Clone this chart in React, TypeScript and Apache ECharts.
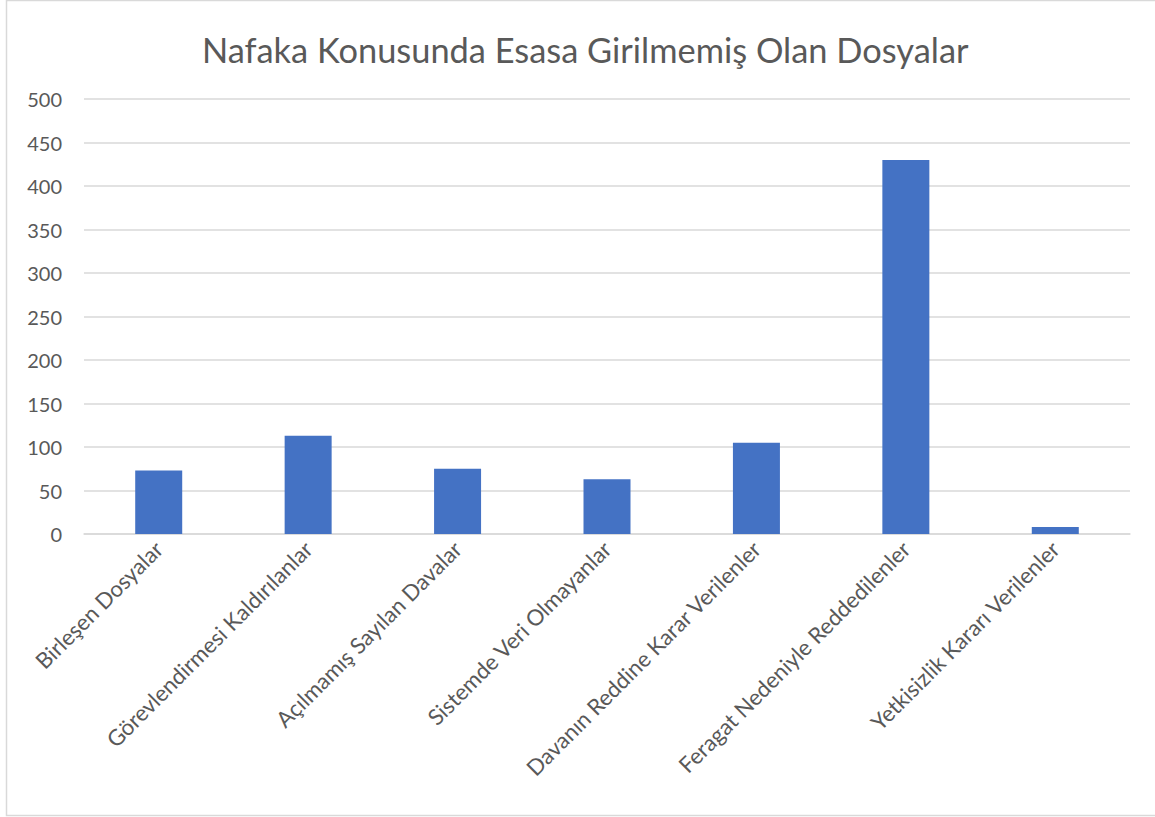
import React, { useEffect, useRef } from "react";
import * as echarts from "echarts";

const titleText = "Nafaka Konusunda Esasa Girilmemiş Olan Dosyalar";
const categories = [
  "Birleşen Dosyalar",
  "Görevlendirmesi Kaldırılanlar",
  "Açılmamış Sayılan Davalar",
  "Sistemde Veri Olmayanlar",
  "Davanın Reddine Karar Verilenler",
  "Feragat Nedeniyle Reddedilenler",
  "Yetkisizlik Kararı Verilenler",
];
const values = [73, 113, 75, 63, 105, 430, 8];

const FONT = "Lato, 'Open Sans', sans-serif";

export default function App() {
  const ref = useRef<HTMLDivElement>(null);
  useEffect(() => {
    if (!ref.current) return;
    const chart = echarts.init(ref.current, null, { renderer: "svg" });
    chart.setOption({
      animation: false,
      backgroundColor: "#ffffff",
      title: {
        text: titleText,
        left: 197,
        top: 27,
        textStyle: { fontFamily: FONT, fontSize: 34.4, fontWeight: "normal", color: "#595959" },
      },
      graphic: [
        {
          type: "rect",
          shape: { x: 6.5, y: 0.5, width: 1160, height: 815 },
          style: { fill: "none", stroke: "#d9d9d9", lineWidth: 1.5 },
          silent: true,
        },
      ],
      grid: { left: 84, right: 25, top: 99, bottom: 283, containLabel: false },
      xAxis: {
        type: "category",
        data: categories,
        axisLine: { show: true, lineStyle: { color: "#d9d9d9", width: 1.5 } },
        axisTick: { show: false },
        axisLabel: {
          rotate: 45,
          interval: 0,
          margin: 11,
          fontFamily: FONT,
          fontSize: 22.2,
          color: "#595959",
        },
      },
      yAxis: {
        type: "value",
        min: 0,
        max: 500,
        interval: 50,
        axisLine: { show: false },
        axisTick: { show: false },
        splitLine: { lineStyle: { color: "#d9d9d9", width: 1.5 } },
        axisLabel: { margin: 22, fontFamily: FONT, fontSize: 20, color: "#595959" },
      },
      series: [
        {
          type: "bar",
          data: values,
          barWidth: 47,
          itemStyle: { color: "#4472c4" },
        },
      ],
    });
    return () => chart.dispose();
  }, []);
  return (
    <div
      ref={ref}
      style={{ position: "fixed", left: 0, top: 0, width: 1155, height: 817 }}
    />
  );
}
